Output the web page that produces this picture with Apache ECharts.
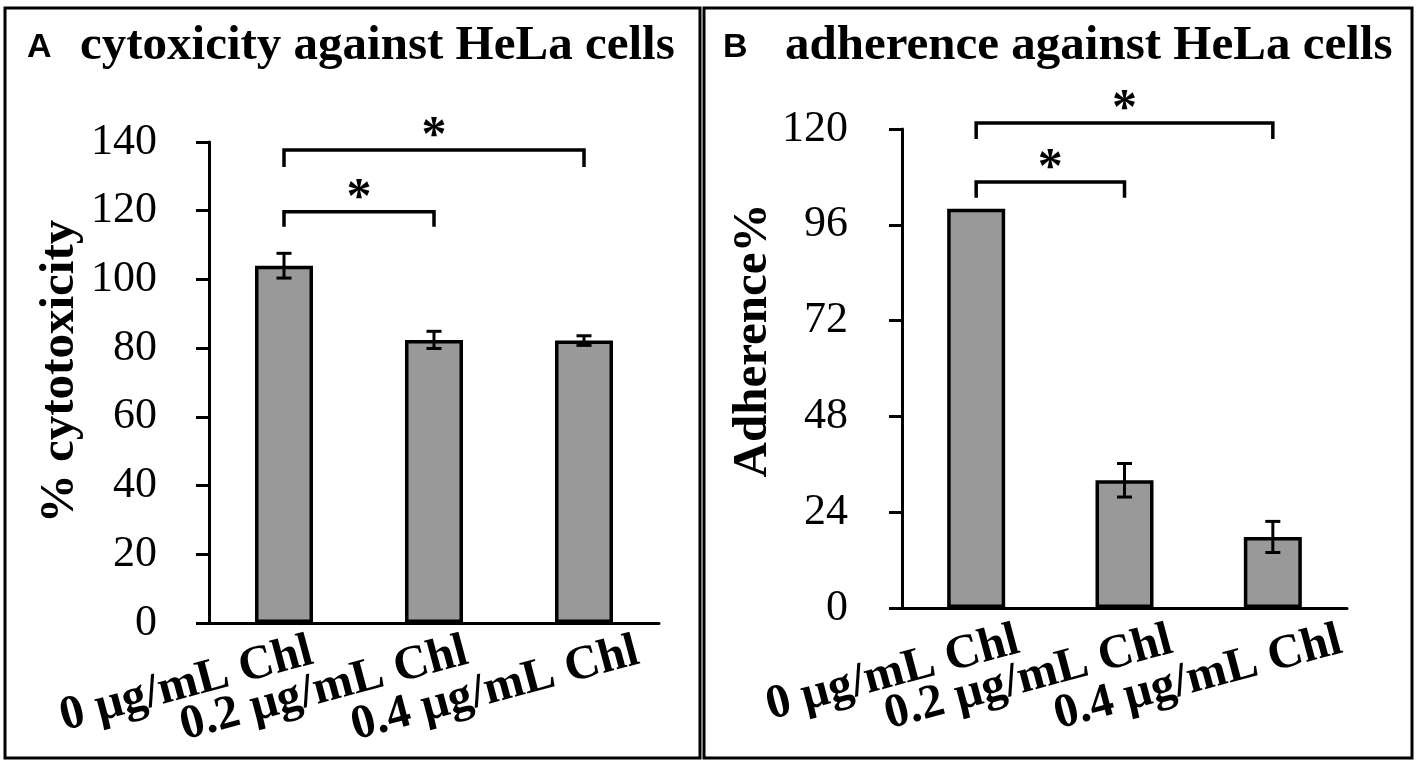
<!DOCTYPE html>
<html>
<head>
<meta charset="utf-8">
<script src="https://cdn.jsdelivr.net/npm/echarts@6/dist/echarts.min.js"></script>
<style>
  html, body { margin: 0; padding: 0; background: #fff; }
  #chart { width: 1418px; height: 768px; }
</style>
</head>
<body>
<div id="chart"></div>
<script>
// data
const categories = ['0 µg/mL Chl', '0.2 µg/mL Chl', '0.4 µg/mL Chl'];
const cytoValues = [104, 82.4, 82.2];
const cytoErrors = [3.6, 2.5, 1.4];
const adhValues = [100, 32, 17.8];
const adhErrors = [0, 4.2, 3.9];
// significance brackets: [fromIndex, toIndex, barValue, legValue]
const cytoBrackets = [[0, 2, 137.7, 132.7], [0, 1, 119.7, 115.3]];
const adhBrackets = [[0, 2, 121.5, 117.5], [0, 1, 106.75, 102.75]];

const serif = '"Liberation Serif", "Times New Roman", serif';
const labelNudge = [0, 5, 26];

const chart = echarts.init(document.getElementById('chart'));

function renderErr(params, api) {
    const i = api.value(0), v = api.value(1), e = api.value(2);
    if (!e) return;
    const top = api.coord([i, v + e]);
    const bot = api.coord([i, v - e]);
    const cap = 7.5;
    const st = {stroke: '#000', lineWidth: 3};
    return {
        type: 'group',
        children: [
            {type: 'line', shape: {x1: top[0], y1: top[1], x2: bot[0], y2: bot[1]}, style: st},
            {type: 'line', shape: {x1: top[0] - cap, y1: top[1], x2: top[0] + cap, y2: top[1]}, style: st},
            {type: 'line', shape: {x1: bot[0] - cap, y1: bot[1], x2: bot[0] + cap, y2: bot[1]}, style: st}
        ]
    };
}

function renderBracket(params, api) {
    const a = api.value(0), b = api.value(1), yTop = api.value(2), yLeg = api.value(3);
    const p1 = api.coord([a, yLeg]), p2 = api.coord([a, yTop]);
    const p3 = api.coord([b, yTop]), p4 = api.coord([b, yLeg]);
    return {
        type: 'group',
        children: [
            {
                type: 'polyline',
                shape: {points: [p1, p2, p3, p4]},
                style: {stroke: '#000', lineWidth: 3.5, fill: null}
            },
            {
                type: 'text',
                x: (p2[0] + p3[0]) / 2,
                y: p2[1] - 13,
                style: {
                    text: '*', fill: '#000',
                    font: 'bold 50px ' + serif,
                    textAlign: 'center', textVerticalAlign: 'middle'
                }
            }
        ]
    };
}

function yAxisCfg(gridIndex, max, interval, name, gap, pad, margin) {
    return {
        type: 'value', gridIndex: gridIndex, min: 0, max: max, interval: interval,
        name: name, nameLocation: 'middle', nameGap: gap,
        nameTextStyle: {fontFamily: serif, fontWeight: 'bold', fontSize: 49, color: '#000', padding: pad},
        axisLine: {show: true, lineStyle: {color: '#000', width: 3}},
        axisTick: {show: true, length: 13, lineStyle: {color: '#000', width: 3}},
        axisLabel: {fontFamily: serif, fontSize: 44, color: '#000', margin: margin},
        splitLine: {show: false}
    };
}

function xAxisCfg(gridIndex) {
    return {
        type: 'category', gridIndex: gridIndex, data: categories,
        axisLine: {lineStyle: {color: '#000', width: 3}},
        axisTick: {show: false},
        axisLabel: {show: false}
    };
}

function barCfg(k, values) {
    return {
        type: 'bar', xAxisIndex: k, yAxisIndex: k, data: values, barWidth: 58,
        itemStyle: {color: '#999999', borderColor: '#000', borderWidth: 3.5},
        silent: true
    };
}

const option = {
    animation: false,
    backgroundColor: '#fff',
    grid: [
        {left: 209, top: 142, width: 450, height: 481},
        {left: 902, top: 129, width: 445, height: 479}
    ],
    xAxis: [xAxisCfg(0), xAxisCfg(1)],
    yAxis: [
        yAxisCfg(0, 140, 20, '% cytotoxicity', 124, [0, 0, 0, 22], 52),
        yAxisCfg(1, 120, 24, 'Adherence%', 115, [0, 0, 0, 56], 54)
    ],
    series: [
        barCfg(0, cytoValues),
        barCfg(1, adhValues),
        {
            type: 'custom', xAxisIndex: 0, yAxisIndex: 0, renderItem: renderErr,
            encode: {x: 0, y: 1}, z: 5,
            data: categories.map((c, i) => [i, cytoValues[i], cytoErrors[i]])
        },
        {
            type: 'custom', xAxisIndex: 1, yAxisIndex: 1, renderItem: renderErr,
            encode: {x: 0, y: 1}, z: 5,
            data: categories.map((c, i) => [i, adhValues[i], adhErrors[i]])
        },
        {
            type: 'custom', xAxisIndex: 0, yAxisIndex: 0, renderItem: renderBracket,
            encode: {x: [0, 1], y: [2, 3]}, z: 5, clip: false,
            data: cytoBrackets
        },
        {
            type: 'custom', xAxisIndex: 1, yAxisIndex: 1, renderItem: renderBracket,
            encode: {x: [0, 1], y: [2, 3]}, z: 5, clip: false,
            data: adhBrackets
        }
    ]
};

chart.setOption(option);

// panel frames, titles and the slanted category labels
const graphics = [
    {type: 'rect', shape: {x: 5, y: 8, width: 695, height: 750}, style: {fill: null, stroke: '#000', lineWidth: 3}},
    {type: 'rect', shape: {x: 704, y: 8, width: 708, height: 750}, style: {fill: null, stroke: '#000', lineWidth: 3}},
    {type: 'text', x: 27, y: 48, style: {text: 'A', font: 'bold 34px "Liberation Sans", Arial, sans-serif', fill: '#000', textVerticalAlign: 'middle'}},
    {type: 'text', x: 80, y: 46, style: {text: 'cytoxicity against HeLa cells', font: 'bold 49px ' + serif, fill: '#000', textVerticalAlign: 'middle'}},
    {type: 'text', x: 723, y: 48, style: {text: 'B', font: 'bold 34px "Liberation Sans", Arial, sans-serif', fill: '#000', textVerticalAlign: 'middle'}},
    {type: 'text', x: 785, y: 46, style: {text: 'adherence against HeLa cells', font: 'bold 49px ' + serif, fill: '#000', textVerticalAlign: 'middle'}}
];

[[0, 28, 28], [1, 42, 32]].forEach(function (p) {
    categories.forEach(function (c, i) {
        const pt = chart.convertToPixel({gridIndex: p[0]}, [i, 0]);
        graphics.push({
            type: 'text',
            x: pt[0] + p[1] + labelNudge[i],
            y: pt[1] + p[2],
            rotation: 15 * Math.PI / 180,
            style: {
                text: c, font: 'bold 48px ' + serif, fill: '#000',
                textAlign: 'right', textVerticalAlign: 'middle'
            }
        });
    });
});

chart.setOption({graphic: graphics});
</script>
</body>
</html>
